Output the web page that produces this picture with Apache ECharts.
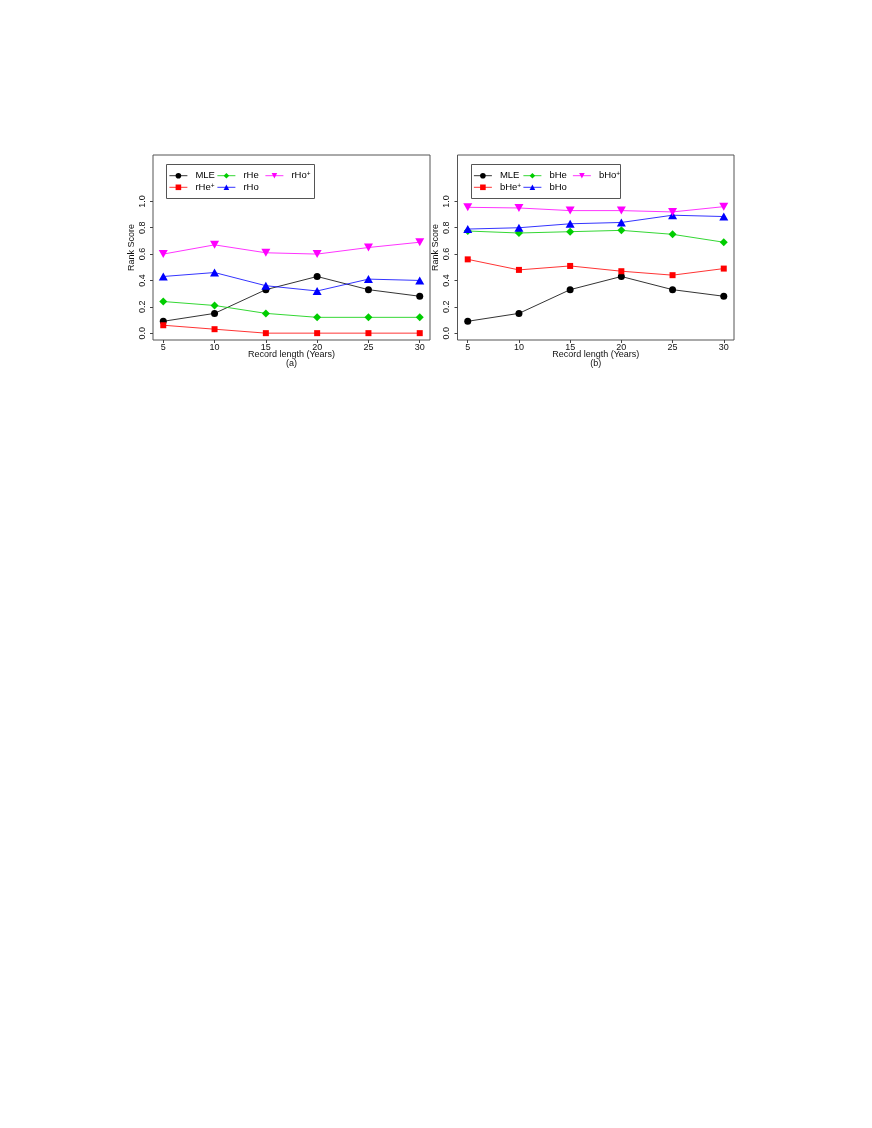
<!DOCTYPE html>
<html><head><meta charset="utf-8">
<script src="https://cdn.jsdelivr.net/npm/echarts@6/dist/echarts.min.js"></script>
<style>html,body{margin:0;padding:0;background:#fff}#c{width:872px;height:1128px}</style>
</head><body><div id="c"></div>
<script>
// ---- data ----
const years = [5, 10, 15, 20, 25, 30];
const xTicks = [5, 10, 15, 20, 25, 30];
const yTicks = [0, 0.2, 0.4, 0.6, 0.8, 1.0];
const panelLabels = ['(a)', '(b)'];
const xTitle = 'Record length (Years)';
const yTitle = 'Rank Score';

const mle     = [0.09, 0.15, 0.33, 0.43, 0.33, 0.28];
const rHePlus = [0.06, 0.03, 0.00, 0.00, 0.00, 0.00];
const rHe     = [0.24, 0.21, 0.15, 0.12, 0.12, 0.12];
const rHo     = [0.43, 0.46, 0.36, 0.32, 0.41, 0.40];
const rHoPlus = [0.60, 0.67, 0.61, 0.60, 0.65, 0.69];

const bHePlus = [0.56, 0.48, 0.51, 0.47, 0.44, 0.49];
const bHe     = [0.775, 0.76, 0.77, 0.78, 0.75, 0.69];
const bHo     = [0.79, 0.80, 0.83, 0.84, 0.895, 0.885];
const bHoPlus = [0.955, 0.95, 0.93, 0.93, 0.92, 0.96];

const namesA = ['MLE', 'rHe+', 'rHe', 'rHo', 'rHo+'];
const namesB = ['MLE', 'bHe+', 'bHe', 'bHo', 'bHo+'];

// ---- styles ----
const FONT = '"Liberation Sans", Arial, Helvetica, sans-serif';
const colors = ['#000000', '#FF0000', '#00CD00', '#0000FF', '#FF00FF'];
const symbols = ['circle', 'rect', 'diamond', 'triangle', 'path://M0,0L2,0L1,1.732Z'];
const symSizes = [7, 6, 8, [9, 8], [9, 8]];

const grids = [
  {left: 153, top: 155, width: 277, height: 185},
  {left: 457.5, top: 155, width: 276.5, height: 185}
];

function pairs(arr) { return years.map((y, i) => [y, arr[i]]); }

const seriesData = [[mle, rHePlus, rHe, rHo, rHoPlus], [mle, bHePlus, bHe, bHo, bHoPlus]];
const seriesNames = [namesA, namesB];

const series = [];
for (let p = 0; p < 2; p++) {
  for (let k = 0; k < 5; k++) {
    series.push({
      type: 'line', name: seriesNames[p][k], xAxisIndex: p, yAxisIndex: p,
      data: pairs(seriesData[p][k]),
      symbol: symbols[k], symbolSize: symSizes[k],
      lineStyle: {color: colors[k], width: 0.8},
      itemStyle: {color: colors[k]},
      emphasis: {disabled: true}, silent: true, z: 2 + k
    });
  }
}

const xAxes = [0, 1].map(p => ({
  type: 'value', gridIndex: p, min: 4, max: 31,
  axisLine: {show: false, onZero: false}, splitLine: {show: false},
  axisTick: {show: true, inside: false, length: 3, lineStyle: {color: '#444', width: 1}, customValues: xTicks},
  axisLabel: {customValues: xTicks, margin: 3.5, fontSize: 9, color: '#111', fontFamily: FONT},
  name: xTitle + '\n' + panelLabels[p], nameLocation: 'middle', nameGap: 10, nameMoveOverlap: false,
  nameTextStyle: {fontSize: 9, lineHeight: 9, color: '#111', fontFamily: FONT}
}));
const yAxes = [0, 1].map(p => ({
  type: 'value', gridIndex: p, min: -0.052, max: 1.352,
  axisLine: {show: false, onZero: false}, splitLine: {show: false},
  axisTick: {show: true, inside: false, length: 3, lineStyle: {color: '#444', width: 1}, customValues: yTicks},
  axisLabel: {customValues: yTicks, rotate: 90, margin: 6, fontSize: 9, color: '#111', fontFamily: FONT,
    formatter: v => Number(v).toFixed(1)},
  name: yTitle, nameLocation: 'middle', nameGap: 17,
  nameTextStyle: {fontSize: 9, color: '#111', fontFamily: FONT}
}));

function fmt(name) {
  if (name.endsWith('+')) return '{n|' + name.slice(0, -1) + '}{s|+}';
  return '{n|' + name + '}';
}
const legendCols = [
  [{left: 169, names: ['MLE', 'rHe+']}, {left: 217, names: ['rHe', 'rHo']}, {left: 265, names: ['rHo+']}],
  [{left: 473.5, names: ['MLE', 'bHe+']}, {left: 523, names: ['bHe', 'bHo']}, {left: 572.5, names: ['bHo+']}]
];
const legends = [];
legendCols.forEach(cols => cols.forEach(c => {
  legends.push({
    orient: 'vertical', left: c.left, top: 170.7, padding: 0, itemGap: 1.6,
    itemWidth: 18, itemHeight: 7, selectedMode: false,
    data: c.names, formatter: fmt,
    lineStyle: {width: 0.8},
    textStyle: {fontFamily: FONT, color: '#000', rich: {
      n: {fontSize: 9.5, lineHeight: 10, padding: [0, 0, 0, 3], fontFamily: FONT},
      s: {fontSize: 6.5, lineHeight: 4, verticalAlign: 'top', fontFamily: FONT}
    }}
  });
}));

const option = {
  animation: false,
  backgroundColor: '#fff',
  textStyle: {fontFamily: FONT},
  grid: grids.map(g => Object.assign({show: true, borderColor: '#555', borderWidth: 1, backgroundColor: 'transparent', containLabel: false}, g)),
  xAxis: xAxes, yAxis: yAxes,
  legend: legends,
  graphic: [
    {type: 'rect', shape: {x: 166.5, y: 164.5, width: 148, height: 34}, style: {fill: 'none', stroke: '#555', lineWidth: 1}, silent: true},
    {type: 'rect', shape: {x: 471.5, y: 164.5, width: 149, height: 34}, style: {fill: 'none', stroke: '#555', lineWidth: 1}, silent: true}
  ],
  series: series
};
const chart = echarts.init(document.getElementById('c'), null, {renderer: 'canvas'});
chart.setOption(option);
</script></body></html>
